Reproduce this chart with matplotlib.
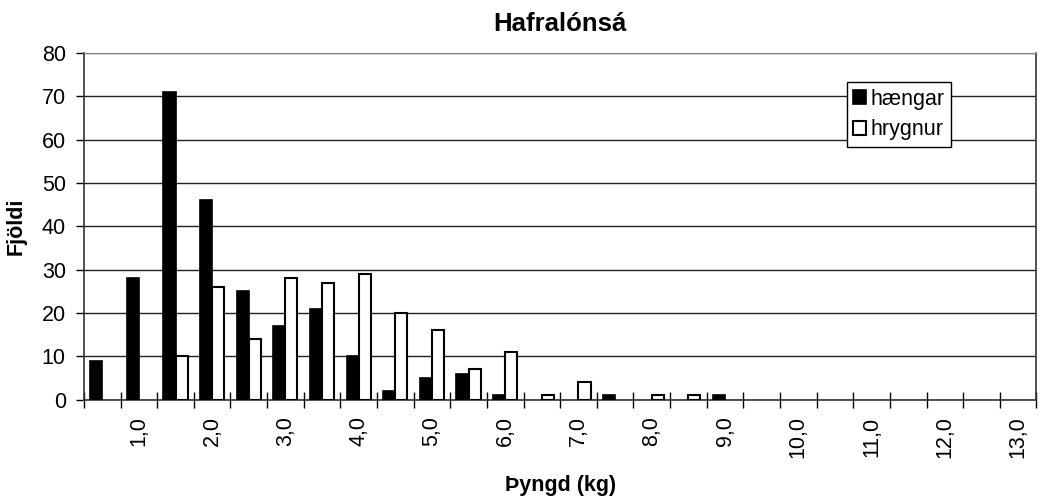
import numpy as np
import matplotlib.pyplot as plt

plt.rcParams['font.family'] = ['Liberation Sans', 'DejaVu Sans']

# weight classes (kg), 0.5 kg steps
weights = [0.5 * (i + 1) for i in range(26)]
haengar = [9, 28, 71, 46, 25, 17, 21, 10, 2, 5, 6, 1, 0, 0, 1, 0, 0, 1,
           0, 0, 0, 0, 0, 0, 0, 0]
hrygnur = [0, 0, 10, 26, 14, 28, 27, 29, 20, 16, 7, 11, 1, 4, 0, 1, 1, 0,
           0, 0, 0, 0, 0, 0, 0, 0]
labels = [f"{w:.1f}".replace(".", ",") if i % 2 == 1 else "" for i, w in enumerate(weights)]

x = np.arange(len(weights))
w = 0.33
fs = 15.5

fig = plt.figure(figsize=(10.49, 5.01), dpi=100)
ax = fig.add_axes([0.080, 0.202, 0.908, 0.692])

h_vals = np.array(haengar, dtype=float)
f_vals = np.array(hrygnur, dtype=float)
hm = h_vals > 0
fm = f_vals > 0
ax.bar(x[hm] - w / 2, h_vals[hm], width=w, color='black', edgecolor='black',
       linewidth=1.2, label='hængar', zorder=3)
ax.bar(x[fm] + w / 2, f_vals[fm], width=w, color='white', edgecolor='black',
       linewidth=1.5, label='hrygnur', zorder=3)

ax.set_xlim(-0.5, len(weights) - 0.5)
ax.set_ylim(0, 80)
ax.set_yticks(range(0, 81, 10))
ax.yaxis.grid(True, color='#222222', linewidth=1.0, zorder=0)
ax.set_axisbelow(True)

ax.set_xticks(x)
ax.set_xticklabels(labels, rotation=90, fontsize=fs)
ax.set_xticks(np.arange(-0.5, len(weights), 1.0), minor=True)
ax.tick_params(axis='x', which='major', length=0, pad=12)
ax.tick_params(axis='x', which='minor', direction='inout', length=12, width=1.0)
ax.tick_params(axis='y', direction='out', length=6, width=1.0, labelsize=fs, pad=7)

for s in ['left', 'bottom', 'right']:
    ax.spines[s].set_color('#333333')
    ax.spines[s].set_linewidth(1.2)
ax.spines['top'].set_color('#888888')

ax.set_title('Hafralónsá', fontsize=18.5, fontweight='bold', pad=16)
ax.set_ylabel('Fjöldi', fontsize=fs, fontweight='bold', labelpad=11)
ax.set_xlabel('Þyngd (kg)', fontsize=fs, fontweight='bold', labelpad=12)

leg = ax.legend(loc='upper left', bbox_to_anchor=(0.801, 0.916), fontsize=fs,
                frameon=True, fancybox=False, edgecolor='black', framealpha=1,
                handlelength=0.6, handleheight=0.6, handletextpad=0.2,
                borderpad=0.3, labelspacing=0.45, borderaxespad=0)
leg.get_frame().set_linewidth(1.0)

fig.savefig('out.png', dpi=100)
